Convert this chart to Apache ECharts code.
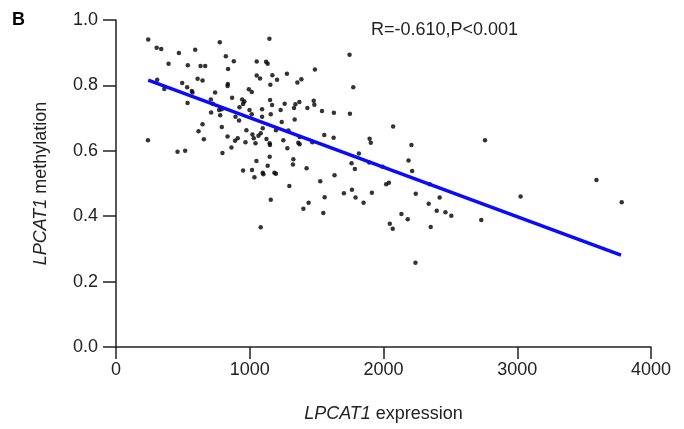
<!DOCTYPE html>
<html>
<head>
<meta charset="utf-8">
<script src="https://cdn.jsdelivr.net/npm/echarts@6/dist/echarts.min.js"></script>
<style>
  html, body { margin: 0; padding: 0; background: #fff; }
  #chart { width: 684px; height: 429px; }
</style>
</head>
<body>
<div id="chart"></div>
<script>
var chart = echarts.init(document.getElementById('chart'));

// LPCAT1 expression (x) vs methylation (y)
const expr = [
  241, 304, 338, 470, 592, 776, 1147, 393, 537, 632, 667, 821, 881, 838, 1052, 1122, 1134,
  610, 647, 1052, 1077, 1169, 308, 361, 495, 532, 567, 572, 836, 834, 741, 993, 1015, 1154,
  1152, 535, 709, 868, 943, 960, 950, 724, 771, 791, 923, 998, 1092, 1167, 711, 779, 893,
  920, 1015, 1092, 1157, 647,
  1204, 1278, 1487, 1746, 1386, 1356, 1774, 1261, 1231, 1341, 1331, 1371, 1431, 1478, 1483,
  1540, 1629, 1749, 1239, 1336,
  1196, 1289, 1251, 1363, 1373, 1373, 1281, 1468, 1557, 1627, 1896, 1905, 2072, 2209, 1326,
  1323, 1425, 1184, 1196, 1816, 1761, 1786, 1893, 1993, 2187, 2214, 1527, 1634, 1296, 2020,
  2040, 2346, 1704, 1764, 1791, 1913, 1560, 2241, 1440, 1401, 1550, 1851, 2420, 2338, 2398,
  2134, 2181, 2047, 2069, 2353,
  791, 975, 1097, 1082, 1065, 1020, 617, 657, 239, 834, 910, 890, 968, 1030, 1043, 1125,
  1149, 1151, 863, 796, 460, 517, 1149, 1050, 1134, 950, 1017, 1097, 1102, 1035, 1157, 1082,
  2759, 2463, 2507, 2731, 3025, 3592, 3781, 2239
];
const methyl = [
  0.940, 0.915, 0.911, 0.899, 0.909, 0.932, 0.943, 0.866, 0.862, 0.859, 0.859, 0.889, 0.874, 0.850, 0.873, 0.872, 0.866,
  0.820, 0.815, 0.830, 0.821, 0.831, 0.817, 0.789, 0.807, 0.794, 0.783, 0.778, 0.804, 0.798, 0.778, 0.788, 0.780, 0.802,
  0.755, 0.746, 0.757, 0.762, 0.757, 0.751, 0.743, 0.744, 0.725, 0.727, 0.733, 0.725, 0.727, 0.740, 0.717, 0.709, 0.704,
  0.693, 0.712, 0.704, 0.712, 0.681,
  0.817, 0.836, 0.849, 0.894, 0.819, 0.809, 0.794, 0.744, 0.725, 0.742, 0.731, 0.749, 0.731, 0.753, 0.741,
  0.722, 0.716, 0.713, 0.688, 0.696,
  0.663, 0.662, 0.632, 0.625, 0.620, 0.642, 0.608, 0.626, 0.648, 0.640, 0.637, 0.625, 0.674, 0.618, 0.574,
  0.558, 0.547, 0.533, 0.530, 0.592, 0.562, 0.544, 0.564, 0.551, 0.570, 0.538, 0.507, 0.525, 0.492, 0.498,
  0.502, 0.498, 0.470, 0.481, 0.457, 0.472, 0.458, 0.469, 0.441, 0.423, 0.410, 0.441, 0.457, 0.438, 0.417,
  0.407, 0.391, 0.377, 0.362, 0.367,
  0.673, 0.663, 0.669, 0.654, 0.646, 0.650, 0.660, 0.635, 0.632, 0.644, 0.638, 0.631, 0.626, 0.638, 0.623, 0.636,
  0.623, 0.618, 0.610, 0.593, 0.597, 0.600, 0.582, 0.569, 0.554, 0.540, 0.541, 0.533, 0.528, 0.519, 0.450, 0.366,
  0.632, 0.412, 0.401, 0.388, 0.460, 0.511, 0.443, 0.258
];

// regression line end points
const fitX = [241, 3776];
const fitY = [0.816, 0.281];

const statText = 'R=-0.610,P<0.001';
const panelLabel = 'B';

const font = 'Liberation Sans, Arial, sans-serif';
const ink = '#222';

var option = {
  animation: false,
  title: {
    text: statText,
    left: 366,
    top: 16,
    textStyle: { fontFamily: font, fontSize: 18, fontWeight: 'normal', color: ink }
  },
  graphic: [
    {
      type: 'text',
      left: 12,
      top: 11,
      style: { text: panelLabel, font: 'bold 18px ' + font, fill: '#000' }
    }
  ],
  grid: { left: 116, right: 33, top: 20, bottom: 82 },
  xAxis: {
    type: 'value',
    min: 0,
    max: 4000,
    interval: 1000,
    name: '{i|LPCAT1} expression',
    nameLocation: 'middle',
    nameGap: 58,
    nameTextStyle: {
      fontFamily: font, fontSize: 18, color: ink,
      rich: { i: { fontFamily: font, fontSize: 18, fontStyle: 'italic', color: ink } }
    },
    axisLine: { onZero: false, lineStyle: { color: ink, width: 1.5 } },
    axisTick: { length: 12, lineStyle: { color: ink, width: 1.5 } },
    axisLabel: {
      fontFamily: font, fontSize: 18, color: ink, margin: 14,
      formatter: (v) => String(v)
    },
    splitLine: { show: false }
  },
  yAxis: {
    type: 'value',
    min: 0,
    max: 1,
    interval: 0.2,
    name: '{i|LPCAT1} methylation',
    nameLocation: 'middle',
    nameGap: 66,
    nameTextStyle: {
      fontFamily: font, fontSize: 18, color: ink,
      rich: { i: { fontFamily: font, fontSize: 18, fontStyle: 'italic', color: ink } }
    },
    axisLine: { show: true, onZero: false, lineStyle: { color: ink, width: 1.5 } },
    axisTick: { show: true, length: 13, lineStyle: { color: ink, width: 1.5 } },
    axisLabel: {
      fontFamily: font, fontSize: 18, color: ink, margin: 18,
      formatter: (v) => v.toFixed(1)
    },
    splitLine: { show: false }
  },
  series: [
    {
      type: 'scatter',
      symbolSize: 4.5,
      itemStyle: { color: '#000' },
      data: expr.map((x, i) => [x, methyl[i]])
    },
    {
      type: 'line',
      showSymbol: false,
      lineStyle: { color: '#0a0aff', width: 3.5 },
      data: fitX.map((x, i) => [x, fitY[i]])
    }
  ]
};

chart.setOption(option);
</script>
</body>
</html>
